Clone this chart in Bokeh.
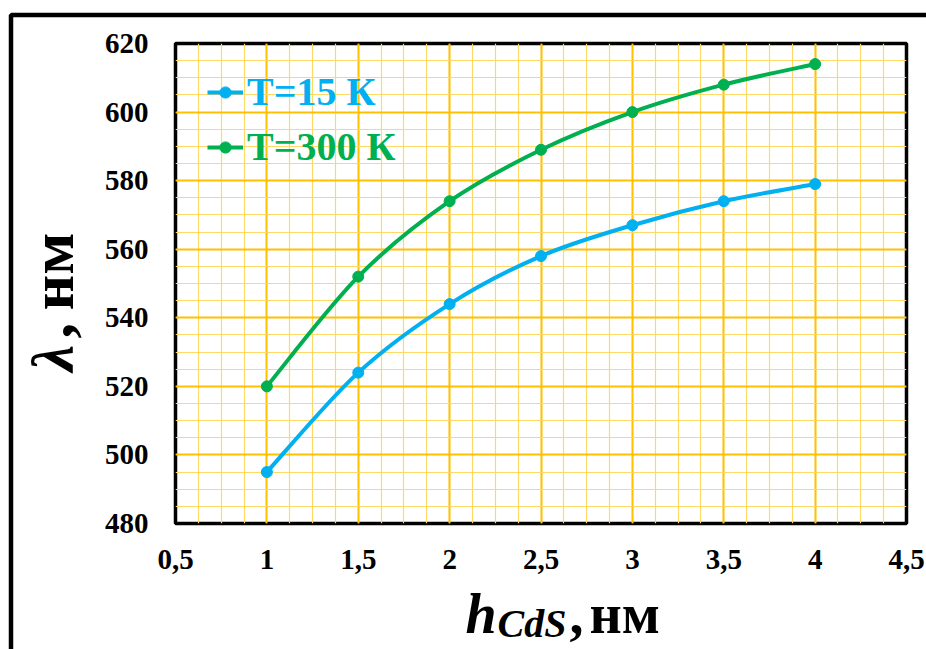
import numpy as np
from bokeh.plotting import figure
from bokeh.models import (Range1d, FixedTicker, Legend, LegendItem, Label,
                          BoxAnnotation, GridBox)
from bokeh.embed import file_html
from bokeh.resources import INLINE

# ---- data ----
h_cds = [1.0, 1.5, 2.0, 2.5, 3.0, 3.5, 4.0]
lambda_15K = [495, 524, 544, 558, 567, 574, 579]
lambda_300K = [520, 552, 574, 589, 600, 608, 614]
series_names = ["T=15 К", "T=300 К"]
series_colors = ["#00B0F0", "#00B050"]

x_ticks = [0.5, 1.0, 1.5, 2.0, 2.5, 3.0, 3.5, 4.0, 4.5]
x_tick_labels = ["0,5", "1", "1,5", "2", "2,5", "3", "3,5", "4", "4,5"]
y_ticks = [480, 500, 520, 540, 560, 580, 600, 620]
y_tick_labels = ["480", "500", "520", "540", "560", "580", "600", "620"]

X0, X1 = 0.5, 4.5
Y0, Y1 = 480, 620

W, H = 926, 649
FL, FR, FT, FB = 175, 906, 43, 523  # frame edges in px

SERIF = "Liberation Serif"

p = figure(width=W, height=H, output_backend="svg", toolbar_location=None,
           x_range=Range1d(X0, X1), y_range=Range1d(Y0, Y1),
           min_border_left=FL, min_border_right=W - FR,
           min_border_top=FT, min_border_bottom=H - FB)
p.frame_align = False
p.background_fill_color = "white"
p.border_fill_color = "white"
p.outline_line_color = "black"
p.outline_line_width = 3.5

# axes
p.xaxis.ticker = FixedTicker(ticks=x_ticks, minor_ticks=list(np.arange(X0, X1 + 1e-9, 0.125)))
p.yaxis.ticker = FixedTicker(ticks=y_ticks, minor_ticks=list(np.arange(Y0, Y1 + 1e-9, 5)))
p.xaxis.major_label_overrides = {t: s for t, s in zip(x_ticks, x_tick_labels)}
p.yaxis.major_label_overrides = {t: s for t, s in zip(y_ticks, y_tick_labels)}
for ax in (p.xaxis, p.yaxis):
    ax.axis_line_color = None
    ax.major_tick_line_color = None
    ax.minor_tick_line_color = None
    ax.major_tick_out = 0
    ax.minor_tick_out = 0
    ax.major_label_text_font = SERIF
    ax.major_label_text_font_style = "bold"
    ax.major_label_text_font_size = "29px"
    ax.major_label_text_color = "black"
p.xaxis.major_label_standoff = 26
p.yaxis.major_label_standoff = 27

for g in (p.xgrid, p.ygrid):
    g.grid_line_color = "#FFC000"
    g.grid_line_width = 2
    g.minor_grid_line_color = "#FFD966"
    g.minor_grid_line_width = 1.2

# smooth curves (Bezier segments through the data points)
def bezier_segments(xs, ys):
    xs = np.asarray(xs, float)
    ys = np.asarray(ys, float)
    n = len(xs)
    xp = np.concatenate([[xs[0]], xs, [xs[-1]]])
    yp = np.concatenate([[ys[0]], ys, [ys[-1]]])
    seg = dict(x0=[], y0=[], x1=[], y1=[], cx0=[], cy0=[], cx1=[], cy1=[])
    for i in range(n - 1):
        j = i + 1
        seg["x0"].append(xp[j]); seg["y0"].append(yp[j])
        seg["x1"].append(xp[j + 1]); seg["y1"].append(yp[j + 1])
        seg["cx0"].append(xp[j] + (xp[j + 1] - xp[j - 1]) / 6)
        seg["cy0"].append(yp[j] + (yp[j + 1] - yp[j - 1]) / 6)
        seg["cx1"].append(xp[j + 1] - (xp[j + 2] - xp[j]) / 6)
        seg["cy1"].append(yp[j + 1] - (yp[j + 2] - yp[j]) / 6)
    return seg

legend_items = []
for name, ys, col in zip(series_names, [lambda_15K, lambda_300K], series_colors):
    s = bezier_segments(h_cds, ys)
    r_line = p.bezier(x0=s["x0"], y0=s["y0"], x1=s["x1"], y1=s["y1"],
                      cx0=s["cx0"], cy0=s["cy0"], cx1=s["cx1"], cy1=s["cy1"],
                      line_color=col, line_width=4)
    r_pts = p.scatter(h_cds, ys, marker="circle", size=11, fill_color=col, line_color=col)
    legend_items.append(LegendItem(label=name, renderers=[r_line, r_pts]))

legend_rows_vy = [408, 353]
for item, col, vy in zip(legend_items, series_colors, legend_rows_vy):
    lg = Legend(items=[item], location=(32, vy), padding=0, margin=0,
                background_fill_alpha=0, border_line_alpha=0,
                label_text_font=SERIF, label_text_font_style="bold",
                label_text_font_size="40px", label_text_color=col,
                glyph_width=36, glyph_height=28, label_standoff=4)
    p.add_layout(lg, "center")

# ---- overlay canvas (pixel coordinates) for axis titles and the outer frame ----
o = figure(width=W, height=H, output_backend="svg", toolbar_location=None,
           x_range=Range1d(0, W), y_range=Range1d(H, 0),
           x_axis_location=None, y_axis_location=None, min_border=0)
o.frame_align = False
o.grid.visible = False
o.outline_line_color = None
o.background_fill_alpha = 0
o.border_fill_alpha = 0

title_style = dict(text_font=SERIF, text_color="black", text_baseline="alphabetic")
# x-axis title: h_CdS, нм
o.add_layout(Label(x=465, y=613, text="h", text_font_style="bold italic",
                   text_font_size="56px", text_align="left", **title_style))
o.add_layout(Label(x=497, y=623, text="CdS", text_font_style="bold italic",
                   text_font_size="40px", text_align="left", **title_style))
o.add_layout(Label(x=569, y=613, text=",", text_font_style="bold",
                   text_font_size="56px", text_align="left", **title_style))
o.add_layout(Label(x=589, y=613, text="нм", text_font_style="bold",
                   text_font_size="56px", text_align="left", **title_style))

# y-axis title: λ, нм (rotated)
o.add_layout(Label(x=52, y=371, text="λ", text_font_style="bold italic",
                   text_font_size="60px", text_align="left", angle=np.pi / 2,
                   **title_style))
o.add_layout(Label(x=51, y=338, text=",", text_font_style="bold",
                   text_font_size="62px", text_align="left", angle=np.pi / 2,
                   **title_style))
o.add_layout(Label(x=51, y=232, text="нм", text_font_style="bold",
                   text_font_size="62px", text_align="right", angle=np.pi / 2,
                   **title_style))

o.add_layout(BoxAnnotation(left=10.5, right=W + 20, top=14.5, bottom=H + 20,
                           fill_alpha=0, line_color="black", line_alpha=1,
                           line_width=4.5))

layout = GridBox(children=[(p, 0, 0), (o, 0, 0)])

open("out.html", "w").write(file_html(layout, INLINE))
